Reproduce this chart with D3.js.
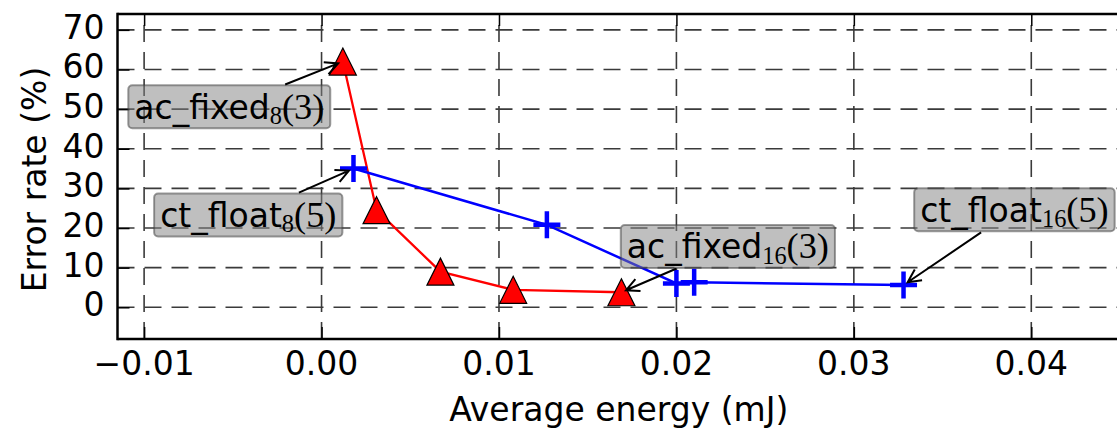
<!DOCTYPE html>
<html>
<head>
<meta charset="utf-8">
<script src="https://cdn.jsdelivr.net/npm/d3@7"></script>
<style>
  html, body { margin: 0; padding: 0; background: #fff; }
  svg { display: block; }
  text { font-family: "DejaVu Sans", sans-serif; }
</style>
</head>
<body>
<svg id="chart" width="1117" height="428"></svg>
<script>
// ---- data ----
const energyFixed = [0.0012, 0.0031, 0.0067, 0.0108, 0.0169];
const errorFixed  = [62.0, 24.5, 9.0, 4.4, 3.8];
const energyFloat = [0.0018, 0.0127, 0.0200, 0.0210, 0.0328];
const errorFloat  = [35.0, 20.8, 6.0, 6.3, 5.6];
const xTicks = [-0.01, 0.00, 0.01, 0.02, 0.03, 0.04];
const xTickLabels = ["\u22120.01", "0.00", "0.01", "0.02", "0.03", "0.04"];
const yTicks = [0, 10, 20, 30, 40, 50, 60, 70];
const yTickLabels = ["0", "10", "20", "30", "40", "50", "60", "70"];
const xLabel = "Average energy (mJ)";
const yLabel = "Error rate (%)";
// annotations: name, subscript, suffix, which series/point, text centre (data units)
const annLabels = ["ac_fixed", "ct_float", "ac_fixed", "ct_float"];
const annSubs   = ["8", "8", "16", "16"];
const annTails  = ["(3)", "(5)", "(3)", "(5)"];
const annSeries = ["fixed", "float", "fixed", "float"];
const annIndex  = [0, 0, 4, 4];
const annTextX  = [-0.0052, -0.00413, 0.0229, 0.03905];
const annTextY  = [50.6, 23.3, 15.35, 24.6];

// ---- layout ----
const svg = d3.select("#chart");
const pL = 117.5, pR = 1120, pT = 14, pB = 339;
const x = d3.scaleLinear().domain([-0.0115, 0.045]).range([pL, pR]);
const y = d3.scaleLinear().domain([-8, 74]).range([pB, pT]);
const FS = 33;

svg.append("defs").append("clipPath").attr("id", "plotclip")
  .append("rect").attr("x", pL).attr("y", pT).attr("width", pR - pL).attr("height", pB - pT);

// grid
const grid = svg.append("g").attr("clip-path", "url(#plotclip)");
grid.selectAll("line.gx").data(xTicks).enter().append("line")
  .attr("x1", d => x(d)).attr("x2", d => x(d))
  .attr("y1", pB).attr("y2", pT)
  .attr("stroke", "#3a3a3a").attr("stroke-width", 1.6).attr("stroke-dasharray", "17,10");
grid.selectAll("line.gy").data(yTicks).enter().append("line")
  .attr("x1", pL).attr("x2", pR)
  .attr("y1", d => y(d)).attr("y2", d => y(d))
  .attr("stroke", "#3a3a3a").attr("stroke-width", 1.6).attr("stroke-dasharray", "17,10");

// axes with inward ticks
const TL = 12;
const xAxisB = d3.axisBottom(x).tickValues(xTicks).tickSize(-TL).tickFormat("");
const xAxisT = d3.axisTop(x).tickValues(xTicks).tickSize(-TL).tickFormat("");
const yAxisL = d3.axisLeft(y).tickValues(yTicks).tickSize(-TL).tickFormat("");
const gb = svg.append("g").attr("transform", `translate(0,${pB})`).call(xAxisB);
const gt = svg.append("g").attr("transform", `translate(0,${pT})`).call(xAxisT);
const gl = svg.append("g").attr("transform", `translate(${pL},0)`).call(yAxisL);
[gb, gt, gl].forEach(g => {
  g.select(".domain").remove();
  g.selectAll(".tick line").attr("stroke", "#000").attr("stroke-width", 1.5);
});

// tick labels
svg.append("g").selectAll("text").data(xTicks).enter().append("text")
  .attr("x", d => x(d)).attr("y", pB + 36)
  .attr("text-anchor", "middle").attr("font-size", FS).attr("fill", "#000")
  .text((d, i) => xTickLabels[i]);
svg.append("g").selectAll("text").data(yTicks).enter().append("text")
  .attr("x", pL - 13).attr("y", d => y(d)).attr("dy", "0.27em")
  .attr("text-anchor", "end").attr("font-size", FS).attr("fill", "#000")
  .text((d, i) => yTickLabels[i]);

// axis labels
svg.append("text").attr("x", (pL + pR) / 2).attr("y", 421)
  .attr("text-anchor", "middle").attr("font-size", FS).text(xLabel);
svg.append("text").attr("transform", `translate(46,${(pT + pB) / 2 + 3}) rotate(-90)`)
  .attr("text-anchor", "middle").attr("font-size", FS).text(yLabel);

// series
const fixedPts = energyFixed.map((e, i) => [e, errorFixed[i]]);
const floatPts = energyFloat.map((e, i) => [e, errorFloat[i]]);
const line = d3.line().x(d => x(d[0])).y(d => y(d[1]));
const plot = svg.append("g").attr("clip-path", "url(#plotclip)");

plot.append("path").datum(fixedPts).attr("d", line)
  .attr("fill", "none").attr("stroke", "#ff0000").attr("stroke-width", 2.3);
plot.append("path").datum(floatPts).attr("d", line)
  .attr("fill", "none").attr("stroke", "#0000ff").attr("stroke-width", 2.5);

const triH = 13.5;
const triPath = `M0,${-triH}L${triH},${triH}L${-triH},${triH}Z`;
plot.selectAll("path.tri").data(fixedPts).enter().append("path")
  .attr("transform", d => `translate(${x(d[0])},${y(d[1])})`)
  .attr("d", triPath).attr("fill", "#ff0000").attr("stroke", "#000").attr("stroke-width", 1.2);

const plusH = 13.5;
plot.selectAll("path.plus").data(floatPts).enter().append("path")
  .attr("transform", d => `translate(${x(d[0])},${y(d[1])})`)
  .attr("d", `M${-plusH},0H${plusH}M0,${-plusH}V${plusH}`)
  .attr("fill", "none").attr("stroke", "#0000ff").attr("stroke-width", 4.5);

// frame
svg.append("line").attr("x1", pL).attr("x2", pL).attr("y1", pT - 1.25).attr("y2", pB + 1.25)
  .attr("stroke", "#000").attr("stroke-width", 2.5);
svg.append("line").attr("x1", pL).attr("x2", pR).attr("y1", pT).attr("y2", pT)
  .attr("stroke", "#000").attr("stroke-width", 2.5);
svg.append("line").attr("x1", pL).attr("x2", pR).attr("y1", pB).attr("y2", pB)
  .attr("stroke", "#000").attr("stroke-width", 2.5);
svg.append("line").attr("x1", pR).attr("x2", pR).attr("y1", pT).attr("y2", pB)
  .attr("stroke", "#000").attr("stroke-width", 2.5);

// annotations
const annG = svg.append("g");
annLabels.forEach((lab, i) => {
  const cx = x(annTextX[i]), cy = y(annTextY[i]);
  const pts = annSeries[i] === "fixed" ? fixedPts : floatPts;
  const p = pts[annIndex[i]];
  const px = x(p[0]), py = y(p[1]);
  const g = annG.append("g");
  const rect = g.append("rect");
  const t = g.append("text").attr("x", cx).attr("y", cy).attr("text-anchor", "middle")
    .attr("font-size", FS).attr("fill", "#000");
  t.append("tspan").text(lab);
  t.append("tspan").attr("font-family", "'Liberation Serif', 'DejaVu Serif', serif")
    .attr("font-size", FS * 0.74).attr("dy", "0.22em").text(annSubs[i]);
  t.append("tspan").attr("font-family", "'Liberation Serif', 'DejaVu Serif', serif")
    .attr("font-size", FS * 1.1).attr("dy", "-0.15em").text(annTails[i]);
  const bb = t.node().getBBox();
  const dyShift = cy - (bb.y + bb.height / 2) + 1;
  t.attr("y", cy + dyShift);
  const padX = 6;
  const rx0 = bb.x - padX, rw = bb.width + 2 * padX;
  const rh = 43, ry0 = cy - rh / 2;
  rect.attr("x", rx0).attr("y", ry0).attr("width", rw).attr("height", rh)
    .attr("rx", 4).attr("ry", 4)
    .attr("fill", "rgba(128,128,128,0.5)").attr("stroke", "rgba(60,60,60,0.5)").attr("stroke-width", 2);
  // arrow from box edge to point
  const bcx = rx0 + rw / 2, bcy = ry0 + rh / 2;
  const dx = px - bcx, dy = py - bcy;
  const tx = dx !== 0 ? (rw / 2) / Math.abs(dx) : Infinity;
  const ty = dy !== 0 ? (rh / 2) / Math.abs(dy) : Infinity;
  const tEdge = Math.min(tx, ty);
  const len = Math.hypot(dx, dy);
  const ux = dx / len, uy = dy / len;
  const sx = bcx + dx * tEdge + ux * 2, sy = bcy + dy * tEdge + uy * 2;
  const ex = px - ux * 5, ey = py - uy * 5;
  const hl = 13, hw = 6.5;
  const bx = ex - ux * hl, by = ey - uy * hl;
  const nx = -uy, ny = ux;
  g.append("path")
    .attr("d", `M${sx},${sy}L${ex},${ey}M${bx + nx * hw},${by + ny * hw}L${ex},${ey}L${bx - nx * hw},${by - ny * hw}`)
    .attr("fill", "none").attr("stroke", "#000").attr("stroke-width", 2).attr("stroke-linejoin", "miter");
});
</script>
</body>
</html>
